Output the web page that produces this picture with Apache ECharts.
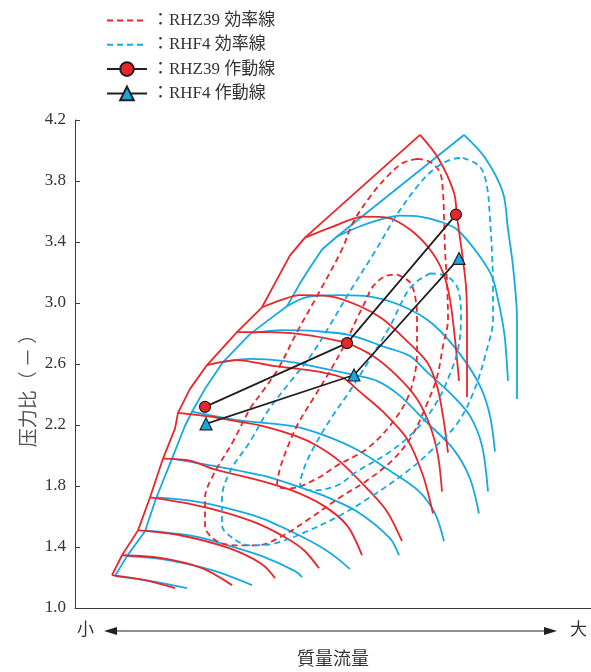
<!DOCTYPE html>
<html>
<head>
<meta charset="utf-8">
<title>RHZ39 / RHF4 compressor map</title>
<script src="https://cdn.jsdelivr.net/npm/echarts@6/dist/echarts.min.js"></script>
<style>
html, body { margin: 0; padding: 0; background: #fff; }
#map { width: 591px; height: 672px; }
</style>
</head>
<body>
<div id="map"></div>
<script>
const FONT_LATIN = "'Liberation Serif', 'Noto Sans CJK JP', serif"
const FONT_CJK = "'Noto Sans CJK JP', 'Noto Sans CJK SC', sans-serif"
const COLORS = {
  red: '#e8262b',
  blue: '#14a9e3',
  black: '#231f20',
  axis: '#3a3a3a',
  text: '#333333',
}

// y axis ticks (pressure ratio)
const yTicks = [1.0, 1.4, 1.8, 2.2, 2.6, 3.0, 3.4, 3.8, 4.2]

// x is mass flow in arbitrary units (the axis has no scale), y is pressure ratio
const rhz39Surge = [[7.4,1.216],[9.4,1.346],[12.6,1.509],[15,1.725],[17.6,1.98],[20,2.176],[20.6,2.28],[23,2.437],[26.4,2.593],[32.4,2.809],[37.4,2.972],[40.4,3.155],[43,3.312],[46,3.429],[69,4.102]]

const rhz39Speed = [
  [[69,4.102],[72.6,3.952],[75.8,3.723],[76.4,3.567],[77.4,3.331],[78.2,3.109],[78.4,2.894],[78.4,2.633],[78.4,2.384]],
  [[46,3.429],[51.6,3.501],[57.6,3.567],[62.4,3.56],[67,3.482],[71,3.351],[73.6,3.201],[75,3.024],[76,2.763],[76.8,2.489]],
  [[37.4,2.972],[41.6,3.024],[45,3.051],[51,3.044],[57,2.979],[61.6,2.894],[66,2.763],[70.4,2.613],[72.4,2.456],[73.6,2.26],[74.6,2.019]],
  [[32.4,2.809],[39,2.809],[45,2.796],[50,2.77],[54.4,2.737],[59.6,2.652],[64.4,2.522],[68.4,2.371],[71,2.195],[72.6,1.999],[73.4,1.764]],
  [[26.4,2.593],[32.4,2.626],[39.6,2.587],[45,2.567],[49,2.548],[53.6,2.509],[57,2.417],[61.6,2.287],[66.4,2.11],[69.6,1.869],[71.6,1.62]],
  [[20.6,2.28],[27.4,2.254],[31.6,2.228],[37.4,2.195],[44,2.13],[48.4,2.064],[53,1.96],[58.4,1.784],[62.4,1.633],[65.4,1.438]],
  [[17.6,1.98],[23,1.967],[27.4,1.914],[37,1.836],[43.4,1.771],[49.6,1.673],[54.4,1.542],[57.4,1.346]],
  [[15,1.725],[23.4,1.679],[30.6,1.62],[37.4,1.542],[43,1.444],[46,1.372],[48.8,1.261]],
  [[12.6,1.509],[21,1.477],[30.8,1.392],[37.4,1.287],[40,1.196]],
  [[9.4,1.346],[17.4,1.327],[25.4,1.261],[31.4,1.15]],
  [[7.4,1.216],[14,1.183],[20,1.131]],
]

const rhz39Efficiency = [
  [[68.4,3.945],[71,3.926],[73,3.854],[73.6,3.723],[73.8,3.567],[74,3.351],[74.4,3.135],[74.6,2.894],[73.6,2.718],[72.4,2.515],[70.4,2.339],[67.4,2.13],[63.6,1.973],[58.4,1.836],[53,1.725],[46.4,1.575],[40.6,1.457],[36.4,1.411],[33,1.411],[28.4,1.438],[26,1.542],[26,1.718],[27.6,1.869],[31.6,2.091],[35,2.306],[37.6,2.424],[40.6,2.567],[44.4,2.809],[48.6,3.057],[53.4,3.351],[55.6,3.527],[59,3.697],[62.4,3.828],[65.6,3.919],[68.4,3.945]],
  [[64.4,3.188],[67,3.135],[68,3.044],[68.4,2.913],[68.4,2.678],[67,2.417],[63.6,2.221],[58.4,2.045],[52.4,1.934],[48.4,1.849],[43,1.784],[40.4,1.803],[41,1.914],[42.4,2.045],[44.6,2.208],[47.6,2.371],[51,2.554],[54,2.731],[56.6,2.913],[58,3.005],[59.6,3.109],[62,3.175],[64.4,3.188]],
]

const rhf4Surge = [[8,1.209],[10.4,1.34],[14,1.503],[16.2,1.718],[19.4,1.98],[22,2.195],[23.4,2.287],[26,2.437],[29.6,2.613],[35,2.796],[38.4,2.881],[42.4,2.979],[45,3.129],[47,3.233],[49.4,3.351],[52.4,3.436],[77.8,4.102]]

const rhf4Speed = [
  [[77.8,4.102],[82,3.952],[85.6,3.723],[86.6,3.482],[87.6,3.24],[88.4,2.894],[88.4,2.371]],
  [[52.4,3.436],[56.4,3.495],[61,3.547],[65,3.573],[69,3.567],[73,3.534],[76.4,3.482],[80.4,3.331],[83.4,3.175],[84.6,3.024],[85.4,2.894],[86,2.763],[86.6,2.489]],
  [[42.4,2.979],[46.4,3.038],[53,3.051],[59.6,3.038],[66,2.972],[71.6,2.861],[77,2.665],[81,2.456],[83,2.26],[84,2.025]],
  [[35,2.802],[41.6,2.822],[48.4,2.815],[55,2.789],[62,2.711],[67,2.652],[70.4,2.548],[75.6,2.391],[79,2.26],[81.4,2.064],[82.6,1.764]],
  [[29.6,2.613],[35,2.633],[41.6,2.62],[48.4,2.58],[55.8,2.528],[60.4,2.489],[65,2.391],[70,2.228],[75.6,2.045],[79,1.849],[80.8,1.62]],
  [[23.4,2.287],[32,2.234],[44,2.189],[50,2.13],[56.4,2.038],[62.6,1.908],[68.6,1.771],[72,1.62],[73.8,1.438]],
  [[19.4,1.98],[27.4,1.934],[37.4,1.869],[44,1.803],[49.6,1.738],[56.4,1.633],[63,1.457],[64.8,1.346]],
  [[16.2,1.725],[24,1.699],[30.6,1.653],[37.4,1.588],[44,1.49],[49.6,1.392],[52.4,1.327],[55,1.255]],
  [[14,1.509],[24,1.47],[30.6,1.411],[37.4,1.34],[44,1.242],[45.4,1.202]],
  [[10.4,1.34],[17.4,1.32],[27.4,1.248],[35.4,1.15]],
  [[8,1.209],[14,1.183],[22.4,1.131]],
]

const rhf4Efficiency = [
  [[77.6,3.952],[81,3.893],[82.4,3.762],[83,3.547],[83.4,3.331],[83.6,3.109],[83.6,2.894],[82.4,2.698],[79.8,2.424],[76.4,2.208],[71,2.025],[66.4,1.895],[59.6,1.738],[53,1.607],[46.4,1.503],[40,1.424],[35,1.411],[31.6,1.457],[29.4,1.542],[29.4,1.718],[31,1.895],[35,2.091],[38.6,2.293],[43,2.482],[47,2.646],[51,2.855],[55,3.077],[60,3.338],[64.4,3.58],[68.4,3.762],[71.6,3.873],[75,3.939],[77.6,3.952]],
  [[71,3.194],[74.4,3.175],[76.6,3.09],[77.2,2.894],[76.6,2.698],[75,2.535],[72.4,2.352],[68.4,2.176],[63,2.025],[56.4,1.895],[52.4,1.803],[47.6,1.771],[45,1.803],[46,1.934],[48.4,2.091],[51.4,2.254],[55,2.424],[59,2.633],[63,2.848],[66.4,3.07],[68.4,3.142],[71,3.194]],
]

const rhz39Operating = [[26,2.319],[54.4,2.737],[76.2,3.58]]
const rhf4Operating = [[26.2,2.208],[55.8,2.528],[76.8,3.292]]

const NAMES = {
  rhz39Eff: '：RHZ39 効率線',
  rhf4Eff: '：RHF4 効率線',
  rhz39Op: '：RHZ39 作動線',
  rhf4Op: '：RHF4 作動線',
}

function solid(data, color, smooth) {
  return {
    type: 'line', data, smooth, symbol: 'none', silent: true,
    lineStyle: { color, width: 1.8 },
    z: 2,
  }
}

function dashed(data, color, name) {
  return {
    type: 'line', name, data, smooth: 0.35, symbol: 'none', silent: true,
    lineStyle: { color, width: 1.8, type: [6, 4] },
    itemStyle: { color },
    z: 3,
  }
}

const series = []
series.push(solid(rhf4Surge, COLORS.blue, false))
rhf4Speed.forEach(line => series.push(solid(line, COLORS.blue, 0.3)))
series.push(solid(rhz39Surge, COLORS.red, false))
rhz39Speed.forEach(line => series.push(solid(line, COLORS.red, 0.3)))
rhz39Efficiency.forEach(c => series.push(dashed(c, COLORS.red, NAMES.rhz39Eff)))
rhf4Efficiency.forEach(c => series.push(dashed(c, COLORS.blue, NAMES.rhf4Eff)))

series.push({
  type: 'line', name: NAMES.rhz39Op, data: rhz39Operating, silent: true,
  symbol: 'circle', symbolSize: 11,
  lineStyle: { color: COLORS.black, width: 1.8 },
  itemStyle: { color: COLORS.red, borderColor: COLORS.black, borderWidth: 1.2 },
  z: 5,
})
series.push({
  type: 'line', name: NAMES.rhf4Op, data: rhf4Operating, silent: true,
  symbol: 'triangle', symbolSize: 12,
  lineStyle: { color: COLORS.black, width: 1.8 },
  itemStyle: { color: COLORS.blue, borderColor: COLORS.black, borderWidth: 1.2 },
  z: 5,
})

const chart = echarts.init(document.getElementById('map'), null, { renderer: 'canvas' })

chart.setOption({
  animation: false,
  backgroundColor: '#fff',
  legend: {
    orient: 'vertical',
    left: 101,
    top: 7,
    itemWidth: 40,
    itemHeight: 17,
    itemGap: 7.3,
    selectedMode: false,
    data: [
      { name: NAMES.rhz39Eff, itemStyle: { opacity: 0 } },
      { name: NAMES.rhf4Eff, itemStyle: { opacity: 0 } },
      NAMES.rhz39Op,
      NAMES.rhf4Op,
    ],
    textStyle: { fontFamily: FONT_LATIN, fontSize: 17, color: COLORS.text },
  },
  grid: { left: 75, right: 0, top: 120, bottom: 62, containLabel: false },
  xAxis: {
    type: 'value',
    min: 0,
    max: 103.2,
    name: '質量流量',
    nameLocation: 'middle',
    nameGap: 41,
    nameTextStyle: { fontFamily: FONT_CJK, fontSize: 18, color: COLORS.text },
    axisLine: { show: true, lineStyle: { color: COLORS.axis, width: 1 } },
    axisTick: { show: false },
    axisLabel: { show: false },
    splitLine: { show: false },
  },
  yAxis: {
    type: 'value',
    min: yTicks[0],
    max: yTicks[yTicks.length - 1],
    interval: 0.4,
    axisLine: { show: true, lineStyle: { color: COLORS.axis, width: 1 } },
    axisTick: { show: true, inside: true, length: 5, lineStyle: { color: COLORS.axis } },
    axisLabel: {
      fontFamily: FONT_LATIN, fontSize: 17, color: COLORS.text, margin: 9,
      formatter: v => v.toFixed(1),
    },
    splitLine: { show: false },
  },
  graphic: [
    {
      type: 'text', x: 28, y: 386, rotation: Math.PI / 2,
      style: { text: '压力比（ － ）', font: "19px 'Noto Sans CJK SC'", fill: '#555', align: 'center', verticalAlign: 'middle' },
    },
    { type: 'text', left: 77, top: 620, style: { text: '小', font: "17px 'Noto Sans CJK JP'", fill: COLORS.text } },
    { type: 'text', left: 570, top: 620, style: { text: '大', font: "17px 'Noto Sans CJK JP'", fill: COLORS.text } },
    { type: 'line', shape: { x1: 110, y1: 631, x2: 550, y2: 631 }, style: { stroke: COLORS.black, lineWidth: 1.2 } },
    { type: 'polygon', shape: { points: [[104, 631], [117, 627], [117, 635]] }, style: { fill: COLORS.black } },
    { type: 'polygon', shape: { points: [[557, 631], [544, 627], [544, 635]] }, style: { fill: COLORS.black } },
  ],
  series,
})
</script>
</body>
</html>
